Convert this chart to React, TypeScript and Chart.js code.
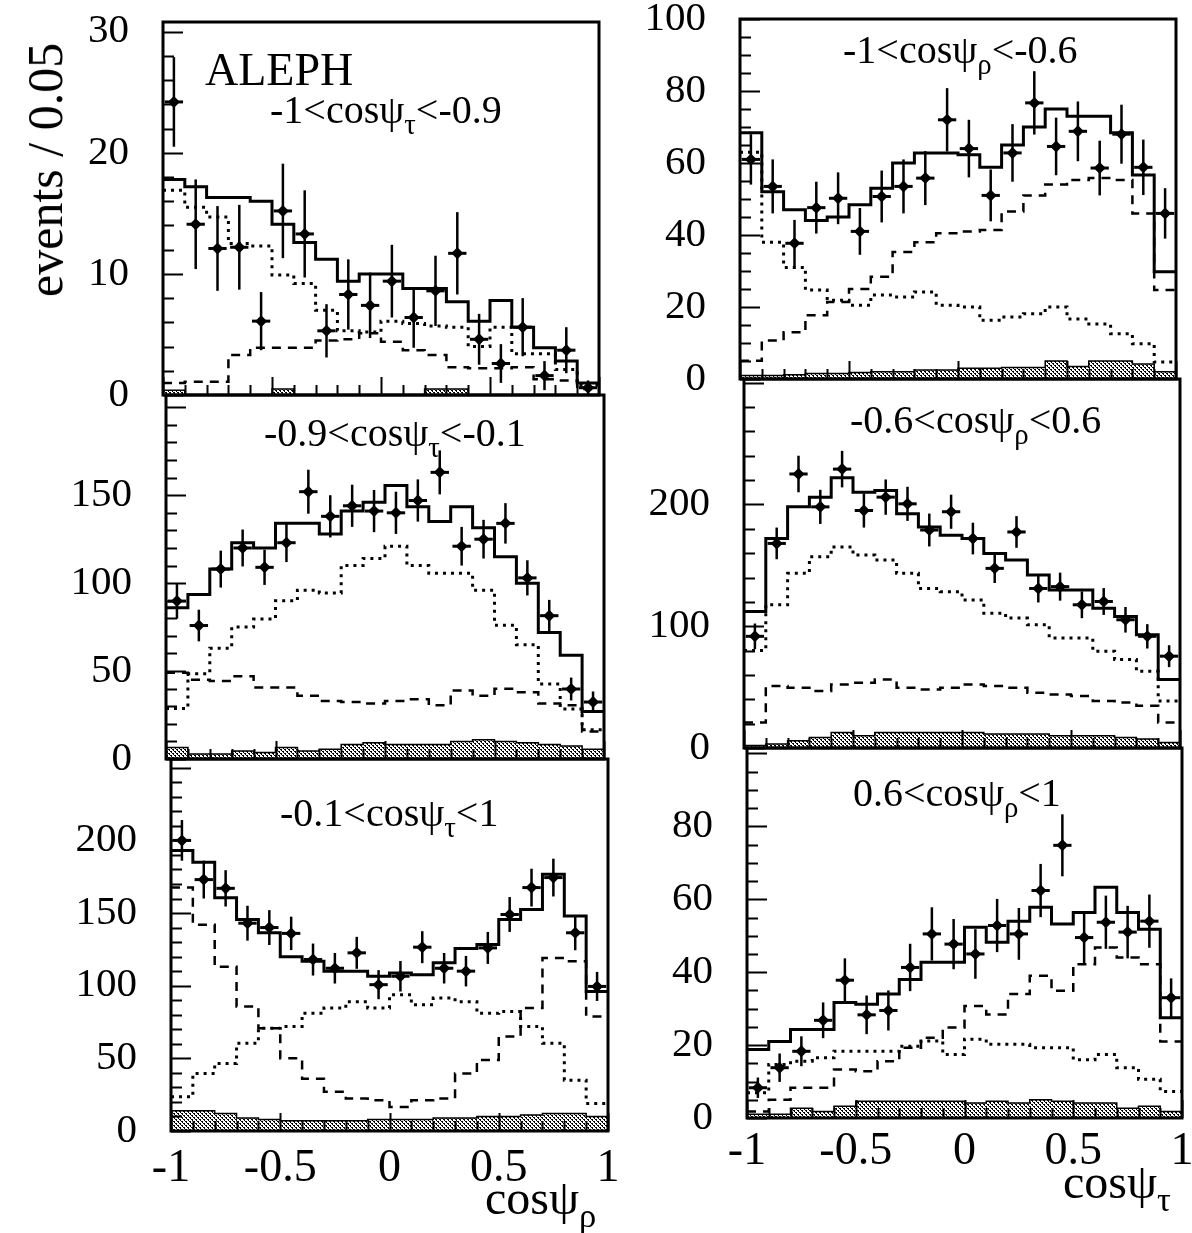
import React, { useEffect, useRef } from 'react';
import { Chart, registerables } from 'chart.js';

Chart.register(...registerables);

// ---------- shared binning (cos psi, 20 bins of 0.1) ----------
const BIN_LEFT = [-1, -0.9, -0.8, -0.7, -0.6, -0.5, -0.4, -0.3, -0.2, -0.1, 0, 0.1, 0.2, 0.3, 0.4, 0.5, 0.6, 0.7, 0.8, 0.9];
const BIN_CENTER = [-0.95, -0.85, -0.75, -0.65, -0.55, -0.45, -0.35, -0.25, -0.15, -0.05, 0.05, 0.15, 0.25, 0.35, 0.45, 0.55, 0.65, 0.75, 0.85, 0.95];
const X_MIN = -1;
const X_MAX = 1;
const X_TICK_VALUES = [-1, -0.5, 0, 0.5, 1];
const X_TICK_LABELS = ['-1', '-0.5', '0', '0.5', '1'];

// ---------- left top: -1<cosψτ<-0.9 ----------
const LT_DATA = [24.2, 14.1, 12.1, 12.2, 6.1, 15.2, 13.3, 5.3, 8.3, 7.4, 9.4, 6.4, 8.6, 11.7, 4.6, 2.6, 5.6, 1.6, 3.7, 0.6];
const LT_ERR = [3.7, 3.7, 3.5, 3.5, 2.4, 3.9, 3.6, 2.2, 2.9, 2.7, 3.0, 2.5, 2.9, 3.4, 2.1, 1.6, 2.4, 1.2, 1.9, 0.6];
const LT_TOTAL = [17.8, 17.2, 16.3, 16.3, 16.0, 14.1, 12.6, 11.2, 9.4, 10.0, 10.0, 8.8, 8.8, 7.7, 6.1, 7.8, 5.6, 3.9, 2.8, 1.0];
const LT_DOTTED = [16.9, 15.5, 14.7, 12.5, 12.3, 9.9, 9.2, 7.0, 5.3, 5.2, 6.1, 5.9, 5.7, 5.6, 4.0, 5.6, 3.4, 3.4, 2.1, 0.8];
const LT_DASHED = [1.0, 1.1, 1.1, 3.3, 3.9, 3.9, 3.9, 4.5, 4.6, 5.1, 4.4, 3.7, 3.3, 2.3, 2.2, 2.2, 2.3, 1.3, 1.2, 0.5];
const LT_HATCH = [0.4, 0, 0, 0, 0, 0.5, 0, 0, 0, 0, 0, 0, 0.5, 0.5, 0, 0, 0, 0, 0, 0];
const LT_Y_LABELS = [0, 10, 20, 30];

// ---------- left middle: -0.9<cosψτ<-0.1 ----------
const LM_DATA = [89.8, 75.9, 108, 120, 109, 123, 152, 138, 144, 141, 140, 147, 163, 121, 125, 134, 103, 81.5, 39.8, 32.4];
const LM_ERR = [10, 9, 10.5, 10.5, 10, 11, 12.5, 12, 12, 12, 12, 12, 12.5, 11, 11, 11.5, 10, 9, 6.5, 6];
const LM_TOTAL = [86, 93.5, 108, 123, 120, 134, 134, 128, 141, 146, 155.5, 143.5, 135, 143.5, 131.5, 115, 100, 72, 59, 27];
const LM_DOTTED = [28.7, 48.5, 63, 75, 79.6, 90, 96, 94.4, 110, 114, 121, 110, 105.6, 105.6, 96, 76, 65, 42.6, 28.5, 16.7];
const LM_DASHED = [49, 45, 44.4, 47, 40.7, 40.7, 36, 33, 32.4, 31.5, 33, 34, 30.5, 39, 36, 40, 38, 31.5, 30.5, 15.7];
const LM_HATCH = [6.5, 2.8, 2.8, 4.6, 3.7, 6.5, 4.6, 5.5, 8.3, 9.3, 8.3, 8.3, 8.3, 10, 11, 10, 9.3, 8.3, 7.4, 5.5];
const LM_Y_LABELS = [0, 50, 100, 150];

// ---------- left bottom: -0.1<cosψτ<1 ----------
const LB_DATA = [200, 173, 167, 143, 140, 136, 118, 112, 122.6, 100.7, 106.5, 126.5, 112, 110, 126, 149, 167.5, 174.4, 136.4, 99.5];
const LB_ERR = [14, 13, 12.5, 12, 12, 11.5, 11, 10.5, 11, 10, 10.5, 11, 10.5, 10.5, 11, 12, 13, 13, 12, 10];
const LB_TOTAL = [193, 185, 160.6, 145.6, 136.4, 120, 116.8, 110, 110, 106.5, 108.8, 107.6, 115.7, 125.6, 128.3, 145.6, 152.5, 176.7, 148, 96];
const LB_DOTTED = [23.5, 39.6, 46.5, 60.4, 70.7, 72, 81, 84.6, 89, 84.6, 93.8, 86.9, 91.5, 89, 81, 82.3, 72, 60.4, 35, 19];
const LB_DASHED = [167.5, 142, 113, 85.7, 70.7, 50, 36, 27, 22.4, 21.2, 16.6, 21.2, 22.4, 39.6, 48.8, 65, 84.6, 119, 116.8, 78.8];
const LB_HATCH = [14, 14, 12, 9, 8, 7, 7, 7, 7, 8, 8, 8, 9, 9, 10, 10, 11, 12, 12, 10];
const LB_Y_LABELS = [0, 50, 100, 150, 200];

// ---------- right top: -1<cosψρ<-0.6 ----------
const RT_DATA = [61, 53.5, 37.7, 47.6, 50.2, 41, 50.7, 53.5, 55.8, 72, 64, 51, 62.8, 76.7, 64.6, 68.8, 58.6, 68, 58.8, 46];
const RT_ERR = [7, 7.5, 6.5, 7.2, 7.2, 6.5, 7.2, 7.5, 7.5, 8.8, 8, 7.2, 8, 8.8, 8, 8.3, 7.6, 8.2, 7.7, 7];
const RT_TOTAL = [68.4, 52, 47, 44, 45, 48.4, 53, 60, 62.8, 62.8, 62.3, 58.8, 65, 70, 75, 73, 73, 68.4, 56.7, 29.8];
const RT_DOTTED = [63, 38, 31, 24.7, 21.9, 20.5, 23.3, 22.8, 24.2, 20.5, 20, 16.3, 17.2, 18.1, 20, 16.7, 15.3, 12.6, 9.8, 4.7];
const RT_DASHED = [5.1, 10.7, 13, 17.7, 21.4, 25, 28.4, 35.3, 38, 40.5, 41, 41.4, 46.5, 51, 54, 55.3, 55.8, 55.3, 46, 24.7];
const RT_HATCH = [1, 1, 1.2, 1.5, 1.5, 1.8, 2, 2, 2.5, 2.5, 3, 3, 3.2, 3.2, 5, 3.5, 5, 5, 4.2, 2];
const RT_Y_LABELS = [0, 20, 40, 60, 80, 100];

// ---------- right middle: -0.6<cosψρ<0.6 ----------
const RM_DATA = [91.7, 168, 225, 198, 229, 195, 206, 200.5, 179, 194, 172, 147.5, 177.4, 131, 132.5, 117.6, 120.3, 105.3, 91.7, 75.4];
const RM_ERR = [10.5, 13, 15, 14, 15, 14, 14.5, 14, 13.5, 14, 13, 12, 13, 11.5, 11.5, 11, 11, 10.5, 10, 9];
const RM_TOTAL = [112, 172, 198, 206, 222, 210, 211.5, 192.4, 181.5, 174.7, 172, 159.7, 154.3, 142, 129.8, 129.8, 114.8, 108, 93, 56.3];
const RM_DOTTED = [80, 117.6, 143.4, 157, 165, 158.4, 154.3, 143.4, 131, 128.4, 121.6, 110.7, 106.7, 101.2, 90.3, 90.3, 79.5, 72.7, 63, 38.6];
const RM_DASHED = [21, 51, 49.5, 46.8, 52.2, 53.6, 56.3, 49.5, 48, 49.5, 52.2, 51, 49.5, 45.4, 44, 42.7, 38.6, 37.3, 34.6, 21];
const RM_HATCH = [2, 3.3, 6, 8.7, 12.8, 10, 12.8, 12.8, 12.8, 12.8, 12.8, 11.4, 11.4, 11.4, 10, 10, 10, 8.7, 7.3, 4.6];
const RM_Y_LABELS = [0, 100, 200];

// ---------- right bottom: 0.6<cosψρ<1 ----------
const RB_DATA = [8.3, 13.8, 18.3, 26.8, 37.8, 28.3, 29.5, 41.3, 50.5, 47.7, 45, 52.8, 50.5, 62.4, 74.8, 49.5, 53.7, 51, 54, 33];
const RB_ERR = [2.8, 3.9, 4.1, 4.9, 6, 5.3, 5.5, 6.5, 7.3, 6.9, 6.8, 7.3, 7.1, 7.3, 8.5, 7, 7.3, 7.2, 7.3, 5.3];
const RB_TOTAL = [18.8, 21, 24.3, 24.3, 31.7, 31.2, 34, 38, 42.7, 42.7, 52.3, 48.2, 54, 57.8, 53.2, 56.4, 63.3, 56.4, 51.8, 27.5];
const RB_DOTTED = [6.9, 14.7, 15.6, 16.5, 18.3, 18.3, 18.3, 19.7, 21.1, 17.4, 21.6, 20.2, 20.2, 19.3, 19.3, 16, 17.4, 13.8, 10.6, 7.3];
const RB_DASHED = [1.8, 5, 8.3, 8.3, 13.3, 12.8, 15.6, 19.3, 22, 24.8, 30.7, 28.4, 34, 39, 34.9, 42.2, 46.8, 44, 42.2, 21];
const RB_HATCH = [1, 1, 2.7, 1.8, 3.2, 4.6, 4.6, 4.6, 4.6, 4.6, 4.1, 4.6, 4.1, 5, 4.6, 4.1, 4.1, 2.7, 3.2, 1.8];
const RB_Y_LABELS = [0, 20, 40, 60, 80];

const FONT = '"Liberation Serif", "DejaVu Serif", serif';

type Panel = {
  left: number; top: number; width: number; height: number;
  yMax: number; yMinor: number; yMajor: number; yLabels: number[];
  data: number[]; err: number[]; total: number[]; dotted: number[]; dashed: number[]; hatch: number[];
  xLabels: boolean; xPad: number;
};

const PANELS: Panel[] = [
  { left: 163, top: 22, width: 436, height: 373, yMax: 30.8, yMinor: 2, yMajor: 10, yLabels: LT_Y_LABELS,
    data: LT_DATA, err: LT_ERR, total: LT_TOTAL, dotted: LT_DOTTED, dashed: LT_DASHED, hatch: LT_HATCH, xLabels: false, xPad: 0 },
  { left: 166, top: 395, width: 438, height: 364, yMax: 207, yMinor: 10, yMajor: 50, yLabels: LM_Y_LABELS,
    data: LM_DATA, err: LM_ERR, total: LM_TOTAL, dotted: LM_DOTTED, dashed: LM_DASHED, hatch: LM_HATCH, xLabels: false, xPad: 0 },
  { left: 171, top: 759, width: 437, height: 372, yMax: 256, yMinor: 10, yMajor: 50, yLabels: LB_Y_LABELS,
    data: LB_DATA, err: LB_ERR, total: LB_TOTAL, dotted: LB_DOTTED, dashed: LB_DASHED, hatch: LB_HATCH, xLabels: true, xPad: 10 },
  { left: 740, top: 19, width: 436, height: 360, yMax: 100, yMinor: 5, yMajor: 20, yLabels: RT_Y_LABELS,
    data: RT_DATA, err: RT_ERR, total: RT_TOTAL, dotted: RT_DOTTED, dashed: RT_DASHED, hatch: RT_HATCH, xLabels: false, xPad: 0 },
  { left: 744, top: 379, width: 436, height: 369, yMax: 303, yMinor: 20, yMajor: 100, yLabels: RM_Y_LABELS,
    data: RM_DATA, err: RM_ERR, total: RM_TOTAL, dotted: RM_DOTTED, dashed: RM_DASHED, hatch: RM_HATCH, xLabels: false, xPad: 0 },
  { left: 747, top: 748, width: 435, height: 370, yMax: 101.5, yMinor: 5, yMajor: 20, yLabels: RB_Y_LABELS,
    data: RB_DATA, err: RB_ERR, total: RB_TOTAL, dotted: RB_DOTTED, dashed: RB_DASHED, hatch: RB_HATCH, xLabels: true, xPad: 6 },
];

const AXIS_W = 130;
const PAD_T = 30;
const PAD_R = 30;

function hist(vals: number[]) {
  const pts = BIN_LEFT.map((x, i) => ({ x, y: vals[i] }));
  pts.push({ x: X_MAX, y: vals[vals.length - 1] });
  return pts;
}

function makePattern(): CanvasPattern | string {
  const c = document.createElement('canvas');
  c.width = 4; c.height = 4;
  const g = c.getContext('2d');
  if (!g) return '#888';
  g.fillStyle = '#fff';
  g.fillRect(0, 0, 4, 4);
  g.fillStyle = '#000';
  g.fillRect(0, 0, 2, 1);
  g.fillRect(2, 2, 2, 1);
  g.fillRect(1, 1, 1, 1);
  g.fillRect(3, 3, 1, 1);
  return g.createPattern(c, 'repeat') || '#888';
}

const framePlugin = {
  id: 'frame',
  afterDatasetsDraw(chart: any, _args: any, opts: any) {
    const { ctx, chartArea: a, scales } = chart;
    ctx.save();
    ctx.strokeStyle = '#000';
    ctx.lineWidth = 2;
    ctx.beginPath();
    const ys = scales.y;
    for (let k = 0; k * opts.minor <= opts.max + 1e-9; k++) {
      const v = k * opts.minor;
      const y = Math.round(ys.getPixelForValue(v)) + 0.5;
      const r = v / opts.major;
      const len = Math.abs(r - Math.round(r)) < 1e-6 ? 20 : 11;
      ctx.moveTo(a.left, y);
      ctx.lineTo(a.left + len, y);
    }
    const xs = scales.x;
    for (let k = 0; k <= 20; k++) {
      const v = X_MIN + k * 0.1;
      const x = Math.round(xs.getPixelForValue(v)) + 0.5;
      const len = k % 5 === 0 ? 18 : 10;
      ctx.moveTo(x, a.bottom);
      ctx.lineTo(x, a.bottom - len);
    }
    ctx.stroke();
    ctx.lineWidth = 3;
    ctx.strokeRect(a.left, a.top, a.right - a.left, a.bottom - a.top);
    ctx.restore();
  },
};

const errPlugin = {
  id: 'errbars',
  afterDatasetsDraw(chart: any) {
    const { ctx, scales } = chart;
    chart.data.datasets.forEach((ds: any, i: number) => {
      if (!ds.errors) return;
      const meta = chart.getDatasetMeta(i);
      ctx.save();
      ctx.strokeStyle = '#000';
      meta.data.forEach((_pt: any, j: number) => {
        const d = ds.data[j];
        const e = ds.errors[j];
        const x = scales.x.getPixelForValue(d.x);
        const y = scales.y.getPixelForValue(d.y);
        const y1 = scales.y.getPixelForValue(d.y + e);
        const y2 = scales.y.getPixelForValue(Math.max(0, d.y - e));
        const xa = scales.x.getPixelForValue(d.x - 0.042);
        const xb = scales.x.getPixelForValue(d.x + 0.042);
        ctx.lineWidth = 2.5;
        ctx.beginPath();
        ctx.moveTo(x, y1);
        ctx.lineTo(x, y2);
        ctx.stroke();
        ctx.lineWidth = 3;
        ctx.beginPath();
        ctx.moveTo(xa, y);
        ctx.lineTo(xb, y);
        ctx.stroke();
      });
      ctx.restore();
    });
  },
};

function PanelChart({ p }: { p: Panel }) {
  const ref = useRef<HTMLCanvasElement>(null);
  const bottomExtra = p.xLabels ? 75 : 30;
  const cw = AXIS_W + p.width + PAD_R;
  const chh = PAD_T + p.height + bottomExtra;
  useEffect(() => {
    if (!ref.current) return;
    const pattern = makePattern();
    const chart = new Chart(ref.current, {
      type: 'line',
      data: {
        datasets: [
          {
            type: 'scatter',
            label: 'data',
            data: BIN_CENTER.map((x, i) => ({ x, y: p.data[i] })),
            errors: p.err,
            showLine: false,
            pointStyle: 'rectRot',
            pointRadius: 6,
            pointBackgroundColor: '#000',
            pointBorderColor: '#000',
            pointBorderWidth: 0,
          } as any,
          {
            label: 'total',
            data: hist(p.total),
            stepped: true,
            borderColor: '#000',
            borderWidth: 3,
            pointRadius: 0,
            fill: false,
          },
          {
            label: 'dotted',
            data: hist(p.dotted),
            stepped: true,
            borderColor: '#000',
            borderWidth: 3,
            borderDash: [3, 5],
            pointRadius: 0,
            fill: false,
          },
          {
            label: 'dashed',
            data: hist(p.dashed),
            stepped: true,
            borderColor: '#000',
            borderWidth: 2.5,
            borderDash: [9, 7],
            pointRadius: 0,
            fill: false,
          },
          {
            label: 'background',
            data: hist(p.hatch),
            stepped: true,
            borderColor: '#000',
            borderWidth: 1.5,
            backgroundColor: pattern as any,
            pointRadius: 0,
            fill: 'origin',
          },
        ],
      },
      options: {
        responsive: false,
        animation: false,
        events: [],
        layout: { padding: { top: PAD_T, right: PAD_R, bottom: 0, left: 0 } },
        plugins: {
          legend: { display: false },
          tooltip: { enabled: false },
          frame: { minor: p.yMinor, major: p.yMajor, max: p.yMax },
        } as any,
        scales: {
          x: {
            type: 'linear',
            min: X_MIN,
            max: X_MAX,
            grid: { display: false, drawTicks: false },
            border: { display: false },
            ticks: {
              display: p.xLabels,
              autoSkip: false,
              maxRotation: 0,
              padding: p.xPad,
              color: '#000',
              font: { family: FONT, size: 46 },
              callback: (v: any) => {
                const idx = X_TICK_VALUES.findIndex((t) => Math.abs(t - Number(v)) < 1e-6);
                return idx >= 0 ? X_TICK_LABELS[idx] : '';
              },
            },
            afterBuildTicks: (s: any) => {
              s.ticks = X_TICK_VALUES.map((v) => ({ value: v }));
            },
            afterFit: (s: any) => {
              s.height = bottomExtra;
              s.paddingLeft = 0; s.paddingRight = 0; s.paddingTop = 0; s.paddingBottom = 0;
            },
          },
          y: {
            type: 'linear',
            min: 0,
            max: p.yMax,
            grid: { display: false, drawTicks: false },
            border: { display: false },
            ticks: {
              padding: 34,
              color: '#000',
              font: { family: FONT, size: 41 },
              callback: (v: any) => String(v),
            },
            afterBuildTicks: (s: any) => {
              s.ticks = p.yLabels.map((v) => ({ value: v }));
            },
            afterFit: (s: any) => {
              s.width = AXIS_W;
              s.paddingLeft = 0; s.paddingRight = 0; s.paddingTop = 0; s.paddingBottom = 0;
            },
          },
        },
      },
      plugins: [framePlugin, errPlugin],
    } as any);
    return () => chart.destroy();
  }, []);
  return (
    <canvas
      ref={ref}
      width={cw}
      height={chh}
      style={{ position: 'absolute', left: p.left - AXIS_W, top: p.top - PAD_T, width: cw, height: chh }}
    />
  );
}

const sub: React.CSSProperties = { fontSize: '0.72em', position: 'relative', top: '0.38em' };

function Label({ left, top, size, children }: { left: number; top: number; size: number; children: React.ReactNode }) {
  return (
    <div style={{ position: 'absolute', left, top, fontFamily: FONT, fontSize: size, lineHeight: 1, whiteSpace: 'nowrap', color: '#000' }}>
      {children}
    </div>
  );
}

export default function App() {
  return (
    <div style={{ position: 'absolute', left: 0, top: 0, width: 1192, height: 1233, background: '#fff', overflow: 'hidden' }}>
      {PANELS.map((p, i) => (
        <PanelChart key={i} p={p} />
      ))}
      <Label left={205} top={47} size={46}>ALEPH</Label>
      <Label left={270} top={90} size={40}>-1&lt;cosψ<span style={sub}>τ</span>&lt;-0.9</Label>
      <Label left={264} top={413} size={40}>-0.9&lt;cosψ<span style={sub}>τ</span>&lt;-0.1</Label>
      <Label left={280} top={793} size={40}>-0.1&lt;cosψ<span style={sub}>τ</span>&lt;1</Label>
      <Label left={843} top={30} size={40}>-1&lt;cosψ<span style={sub}>ρ</span>&lt;-0.6</Label>
      <Label left={850} top={400} size={40}>-0.6&lt;cosψ<span style={sub}>ρ</span>&lt;0.6</Label>
      <Label left={853} top={773} size={40}>0.6&lt;cosψ<span style={sub}>ρ</span>&lt;1</Label>
      <Label left={485} top={1174} size={48}>cosψ<span style={sub}>ρ</span></Label>
      <Label left={1063} top={1158} size={48}>cosψ<span style={sub}>τ</span></Label>
      <div
        style={{
          position: 'absolute', left: 45, top: 170, fontFamily: FONT, fontSize: 50, lineHeight: 1,
          whiteSpace: 'nowrap', transform: 'translate(-50%, -50%) rotate(-90deg)', color: '#000',
        }}
      >
        events / 0.05
      </div>
    </div>
  );
}
